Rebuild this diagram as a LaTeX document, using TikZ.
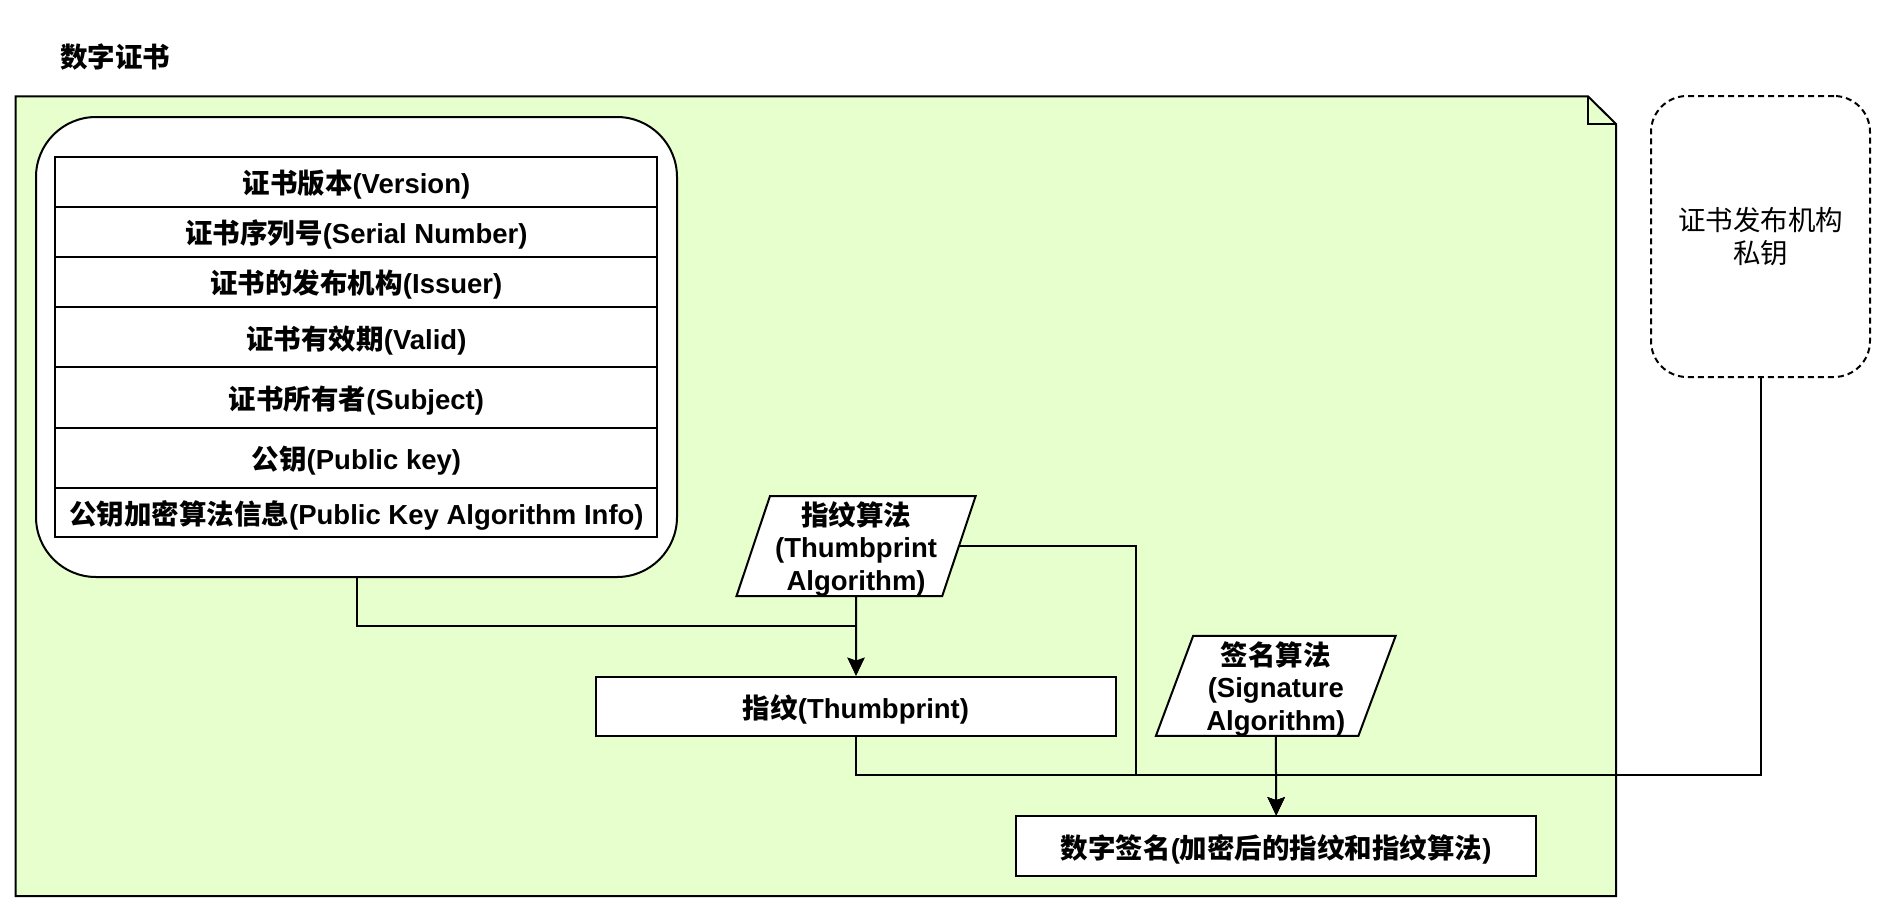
\documentclass[tikz,border=0pt]{standalone}
\usepackage{fontspec}
\setmainfont{Liberation Sans}
\newfontfamily\cjkfont{Noto Sans CJK SC}
\usepackage{xcolor}
\usepackage{tikz}
\usetikzlibrary{positioning, arrows.meta, shapes.geometric}

\definecolor{notegreen}{HTML}{E6FFCC}
\newcommand{\zh}[1]{{\cjkfont #1}}
\newcommand{\bigtext}{\fontsize{27.5}{32.5}\selectfont}

\begin{document}
\begin{tikzpicture}[
    x=1pt, y=-1pt,
    % stacked fields touch each other
    node distance=0pt and 0pt,
    % style for the rows of the certificate
    field_box/.style={
        draw,
        rectangle,
        line width=2pt,
        fill=white,
        minimum width=602pt,
        inner sep=0pt,
        outer sep=0pt,
        text depth=0pt,
        font=\bigtext\bfseries
    },
    % style for plain data boxes
    data_box/.style={
        draw,
        rectangle,
        line width=2pt,
        fill=white,
        minimum width=520pt,
        minimum height=60pt,
        inner sep=0pt,
        text depth=0pt,
        font=\bigtext\bfseries
    },
    % style for the algorithm parallelograms
    algo_box/.style={
        draw,
        trapezium,
        trapezium left angle=70.7,
        trapezium right angle=109.3,
        trapezium stretches=true,
        line width=2pt,
        fill=white,
        minimum width=240pt,
        minimum height=100pt,
        inner sep=1pt,
        text depth=0pt,
        align=center,
        font=\bigtext\bfseries
    },
    % style for the arrows
    arrow/.style={
        -{Stealth[length=18pt, width=17pt, inset=3pt]},
        line width=2pt,
        draw=black
    }
]
\useasboundingbox (0,0) rectangle (1888,914);

% =====================================================================
% NOTE / CONTAINER
% =====================================================================
\node (title) [anchor=west, inner sep=0pt, font=\bigtext\bfseries] at (60,57.5) {\zh{数字证书}};
\draw [line width=2pt, fill=notegreen] (15.7,96.3) -- (1588,96.3) -- (1616,124) -- (1616,896) -- (15.7,896) -- cycle;
\draw [line width=2pt] (1588,96.3) -- (1588,124) -- (1616,124);

% =====================================================================
% NODES
% =====================================================================
\node (body) [draw, line width=2pt, fill=white, rounded corners=60pt, minimum width=641pt, minimum height=460pt] at (356.5,347) {};
\node (version) [field_box, minimum height=50.6pt] at (356.4,181.8) {\zh{证书版本}(Version)};
\node (serial) [field_box, minimum height=49.4pt, below=of version] {\zh{证书序列号}(Serial Number)};
\node (issuer) [field_box, minimum height=50.6pt, below=of serial] {\zh{证书的发布机构}(Issuer)};
\node (valid) [field_box, minimum height=60.2pt, below=of issuer] {\zh{证书有效期}(Valid)};
\node (subject) [field_box, minimum height=60.2pt, below=of valid] {\zh{证书所有者}(Subject)};
\node (pubkey) [field_box, minimum height=60.2pt, below=of subject] {\zh{公钥}(Public key)};
\node (keyalg) [field_box, minimum height=49.4pt, below=of pubkey] {\zh{公钥加密算法信息}(Public Key Algorithm Info)};

\node (thumbalg) [algo_box] at (856.1,546) {\zh{指纹算法}\\(Thumbprint\\Algorithm)};
\node (thumb) [data_box, minimum height=59pt] at (856,706.2) {\zh{指纹}(Thumbprint)};
\node (sigalg) [algo_box] at (1275.8,685.8) {\zh{签名算法}\\(Signature\\Algorithm)};
\node (signature) [data_box] at (1276.2,846.3) {\zh{数字签名}(\zh{加密后的指纹和指纹算法})};

\node (privkey) [draw, dashed, dash pattern=on 6pt off 4pt, line width=2pt, rounded corners=36pt, minimum width=219pt, minimum height=281pt, align=center, font=\bigtext] at (1760.5,236.5) {\zh{证书发布机构}\\\zh{私钥}};

\coordinate (split) at (856,626);
\coordinate (bend) at (1135.5,775.4);
\coordinate (join) at (1276.2,775.4);

% =====================================================================
% CONNECTORS
% =====================================================================
\draw [arrow] (body.south) |- (split) -- (thumb.north);
\draw [arrow] (thumbalg.south) -- (thumb.north);
\draw [arrow] (thumb.south) |- (join) -- (signature.north);
\draw [arrow] (thumbalg.east) -| (bend) -- (join) -- (signature.north);
\draw [arrow] (sigalg.south) -- (signature.north);
\draw [arrow] (privkey.south) |- (join) -- (signature.north);

\end{tikzpicture}
\end{document}
